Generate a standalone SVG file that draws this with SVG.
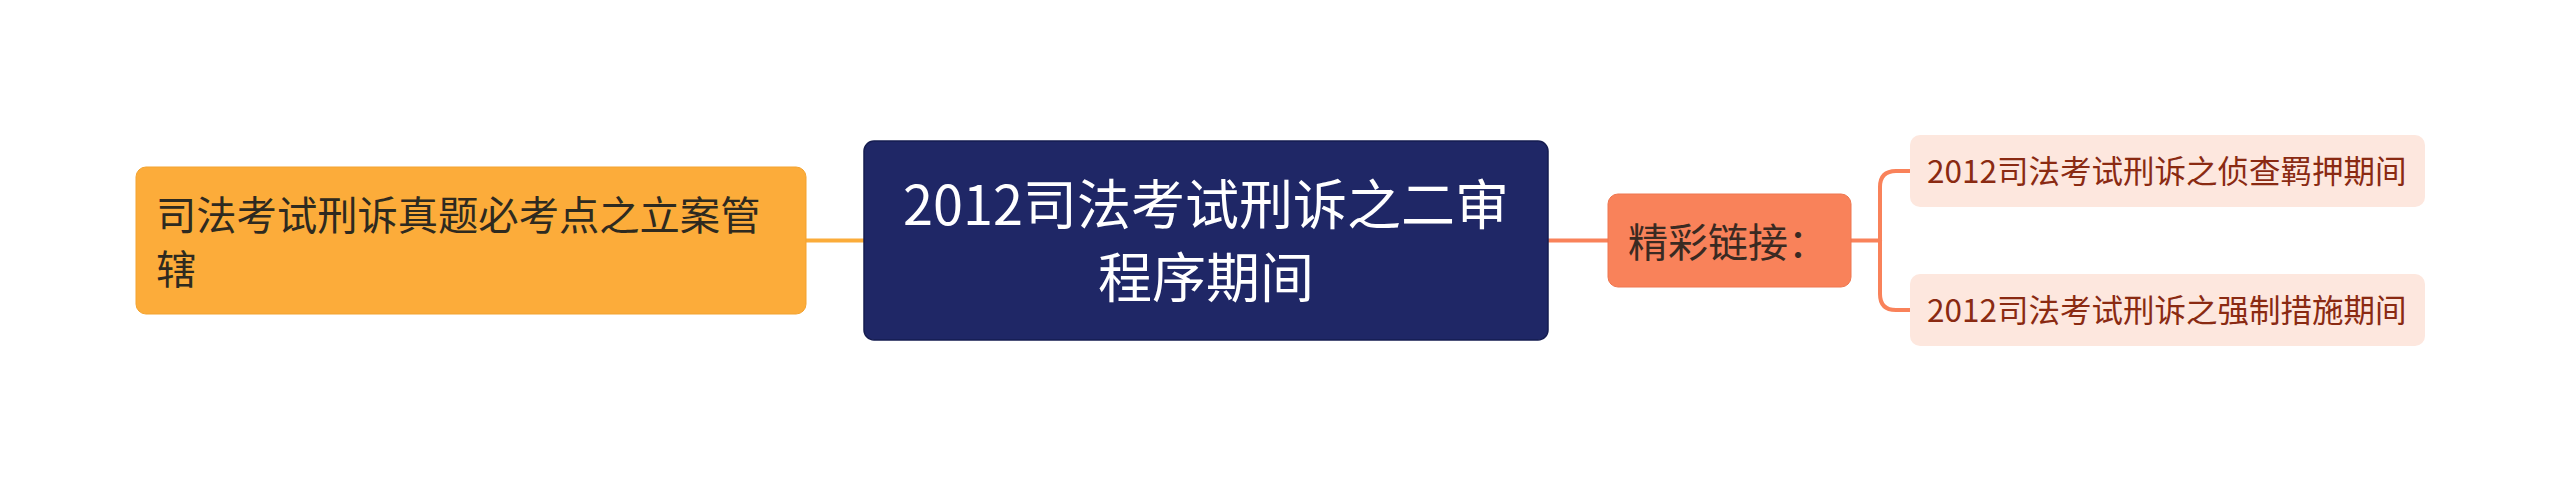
<svg xmlns="http://www.w3.org/2000/svg" width="2560" height="482" viewBox="0 0 2560 482">
<style>
text{font-family:"Noto Sans CJK SC","Noto Sans",sans-serif;}
.c{fill:none;stroke-width:4;stroke-linecap:round;}
</style>
<rect width="2560" height="482" fill="#ffffff"/>
<g id="connectors">
<path class="c" d="M806 240.5 H865" stroke="#FBAC3A"/>
<path class="c" d="M1548 240.5 H1608" stroke="#F9825A"/>
<path class="c" d="M1851 240.5 H1880" stroke="#F9825A"/>
<path class="c" d="M1910 171 H1896 Q1880 171 1880 187 V294 Q1880 310 1896 310 H1910" stroke="#F9825A"/>
</g>
<g id="node-left">
<rect x="136" y="167" width="670" height="147" rx="10" fill="#FCAC3A" stroke="#F3A330" stroke-width="1"/>
<text x="156" y="230" font-size="40.3" fill="#2E2A20">司法考试刑诉真题必考点之立案管</text>
<text x="156" y="284" font-size="40.3" fill="#2E2A20">辖</text>
</g>
<g id="node-center">
<rect x="864" y="141" width="684" height="199" rx="10" fill="#1F2766" stroke="#151C50" stroke-width="1.5"/>
<text x="1206" y="225" font-size="54" fill="#ffffff" text-anchor="middle">2012司法考试刑诉之二审</text>
<text x="1206" y="298" font-size="54" fill="#ffffff" text-anchor="middle">程序期间</text>
</g>
<g id="node-links">
<rect x="1608" y="194" width="243" height="93" rx="10" fill="#F9825A" stroke="#EE7750" stroke-width="1"/>
<text x="1628" y="257" font-size="40" fill="#3A2A22">精彩链接：</text>
</g>
<g id="node-r1">
<rect x="1910" y="135" width="515" height="72" rx="10" fill="#FDE7DE"/>
<text x="1927" y="183" font-size="31.5" fill="#8A2A12">2012司法考试刑诉之侦查羁押期间</text>
</g>
<g id="node-r2">
<rect x="1910" y="274" width="515" height="72" rx="10" fill="#FDE7DE"/>
<text x="1927" y="322" font-size="31.5" fill="#8A2A12">2012司法考试刑诉之强制措施期间</text>
</g>
</svg>
